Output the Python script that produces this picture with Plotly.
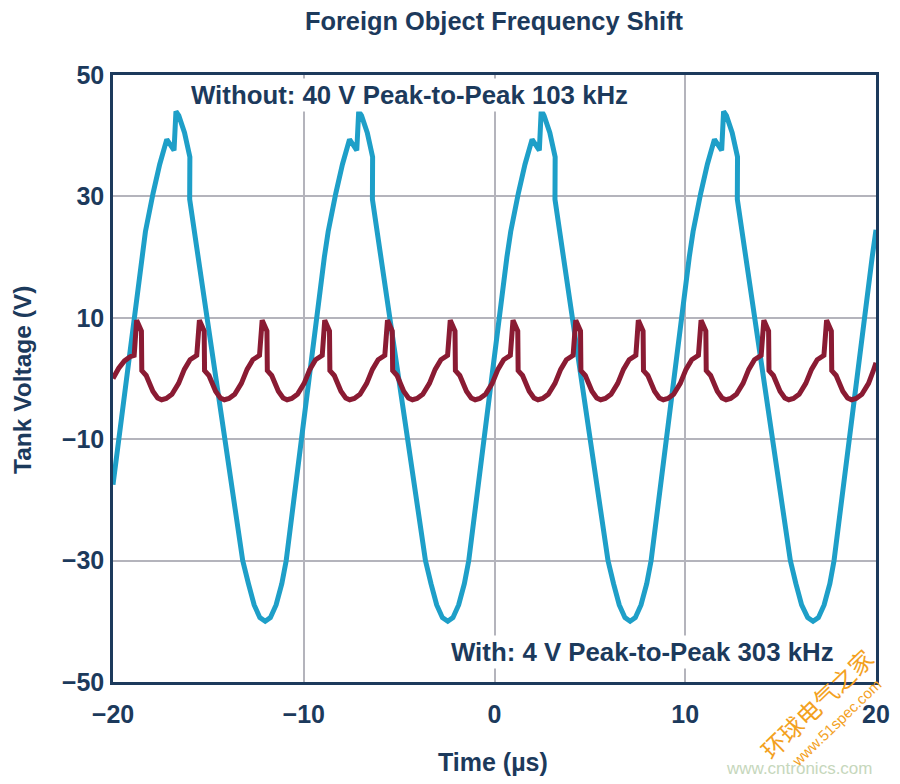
import plotly.graph_objects as go

# ---- data ----
# "Without" foreign object: 40 V peak-to-peak, 103 kHz (time in µs, voltage in V)
without_t = [-20.0, -18.5, -18.3, -17.9, -17.55, -17.18, -16.8, -16.7, -16.55, -16.25, -15.97, -15.98,
             -14.6, -13.2, -12.9, -12.6, -12.3, -12.02, -11.75, -11.45, -11.15, -10.92,
             -8.92, -8.72, -8.32, -7.97, -7.6, -7.22, -7.12, -6.97, -6.67, -6.39, -6.40,
             -5.02, -3.62, -3.33, -3.03, -2.73, -2.45, -2.18, -1.88, -1.58, -1.35,
             0.65, 0.85, 1.25, 1.6, 1.97, 2.35, 2.45, 2.6, 2.9, 3.18, 3.17,
             4.55, 5.95, 6.24, 6.54, 6.84, 7.11, 7.38, 7.68, 7.98, 8.21,
             10.21, 10.41, 10.81, 11.16, 11.53, 11.91, 12.01, 12.16, 12.46, 12.74, 12.73,
             14.11, 15.51, 15.8, 16.1, 16.42, 16.7, 16.98, 17.28, 17.58, 17.8,
             19.8, 20.0]
without_v = [-17.5, 20.0, 24.2, 30.5, 35.3, 39.4, 37.6, 44.0, 43.3, 40.5, 36.5, 29.5,
             0.0, -30.0, -33.8, -37.3, -39.4, -40.0, -39.4, -37.3, -33.8, -30.0,
             20.0, 24.2, 30.5, 35.3, 39.4, 37.6, 44.0, 43.3, 40.5, 36.5, 29.5,
             0.0, -30.0, -33.8, -37.3, -39.4, -40.0, -39.4, -37.3, -33.8, -30.0,
             20.0, 24.2, 30.5, 35.3, 39.4, 37.6, 44.2, 43.3, 40.5, 36.5, 29.5,
             0.0, -30.0, -33.8, -37.3, -39.4, -40.0, -39.4, -37.3, -33.8, -30.0,
             20.0, 24.2, 30.5, 35.3, 39.4, 37.6, 44.0, 43.3, 40.5, 36.5, 29.5,
             0.0, -30.0, -33.8, -37.3, -39.4, -40.0, -39.4, -37.3, -33.8, -30.0,
             20.0, 24.5]

# "With" foreign object: 4 V peak-to-peak, 303 kHz
with_t = [-20.0, -19.7, -19.4, -19.1, -18.89,
          -18.76, -18.51, -18.49, -18.26, -17.91, -17.66, -17.45, -17.21, -16.91, -16.56, -16.26, -15.96, -15.61,
          -15.47, -15.22, -15.20, -14.97, -14.62, -14.37, -14.16, -13.92, -13.62, -13.27, -12.97, -12.67, -12.32,
          -12.18, -11.93, -11.91, -11.68, -11.33, -11.08, -10.87, -10.63, -10.33, -9.98, -9.68, -9.38, -9.03,
          -8.90, -8.65, -8.63, -8.40, -8.05, -7.80, -7.59, -7.35, -7.05, -6.70, -6.40, -6.10, -5.75,
          -5.61, -5.36, -5.34, -5.11, -4.76, -4.51, -4.30, -4.06, -3.76, -3.41, -3.11, -2.81, -2.46,
          -2.32, -2.07, -2.05, -1.82, -1.47, -1.22, -1.01, -0.77, -0.47, -0.12, 0.18, 0.48, 0.83,
          0.97, 1.22, 1.24, 1.47, 1.82, 2.07, 2.28, 2.52, 2.82, 3.17, 3.47, 3.77, 4.12,
          4.26, 4.51, 4.53, 4.76, 5.11, 5.36, 5.57, 5.81, 6.11, 6.46, 6.76, 7.06, 7.41,
          7.54, 7.79, 7.81, 8.04, 8.39, 8.64, 8.85, 9.09, 9.39, 9.74, 10.04, 10.34, 10.69,
          10.83, 11.08, 11.10, 11.33, 11.68, 11.93, 12.14, 12.38, 12.68, 13.03, 13.33, 13.63, 13.98,
          14.12, 14.37, 14.39, 14.62, 14.97, 15.22, 15.43, 15.67, 15.97, 16.32, 16.62, 16.92, 17.27,
          17.41, 17.66, 17.68, 17.91, 18.26, 18.51, 18.72, 18.96, 19.26, 19.61, 19.85, 20.0]
with_v = [0.0, 1.7, 2.9, 3.6, 3.8,
          9.6, 7.8, 1.3, 0.5, -2.1, -3.2, -3.5, -3.3, -2.6, -0.8, 1.5, 3.1, 3.8,
          9.6, 7.8, 1.3, 0.5, -2.1, -3.2, -3.5, -3.3, -2.6, -0.8, 1.5, 3.1, 3.8,
          9.6, 7.8, 1.3, 0.5, -2.1, -3.2, -3.5, -3.3, -2.6, -0.8, 1.5, 3.1, 3.8,
          9.6, 7.8, 1.3, 0.5, -2.1, -3.2, -3.5, -3.3, -2.6, -0.8, 1.5, 3.1, 3.8,
          9.6, 7.8, 1.3, 0.5, -2.1, -3.2, -3.5, -3.3, -2.6, -0.8, 1.5, 3.1, 3.8,
          9.6, 7.8, 1.3, 0.5, -2.1, -3.2, -3.5, -3.3, -2.6, -0.8, 1.5, 3.1, 3.8,
          9.6, 7.8, 1.3, 0.5, -2.1, -3.2, -3.5, -3.3, -2.6, -0.8, 1.5, 3.1, 3.8,
          9.6, 7.8, 1.3, 0.5, -2.1, -3.2, -3.5, -3.3, -2.6, -0.8, 1.5, 3.1, 3.8,
          9.6, 7.8, 1.3, 0.5, -2.1, -3.2, -3.5, -3.3, -2.6, -0.8, 1.5, 3.1, 3.8,
          9.6, 7.8, 1.3, 0.5, -2.1, -3.2, -3.5, -3.3, -2.6, -0.8, 1.5, 3.1, 3.8,
          9.6, 7.8, 1.3, 0.5, -2.1, -3.2, -3.5, -3.3, -2.6, -0.8, 1.5, 3.1, 3.8,
          9.6, 7.8, 1.3, 0.5, -2.1, -3.2, -3.5, -3.3, -2.6, -0.8, 1.2, 2.6]

x_ticks = [-20, -10, 0, 10, 20]
y_ticks = [-50, -30, -10, 10, 30, 50]

title_text = "Foreign Object Frequency Shift"
x_title = "Time (µs)"
y_title = "Tank Voltage (V)"
label_without = "Without: 40 V Peak-to-Peak 103 kHz"
label_with = "With: 4 V Peak-to-Peak 303 kHz"

# ---- styling ----
NAVY = "#1c3a5c"
BLUE = "#1e9fc8"
RED = "#8a1b33"
GRID = "#b4b4bc"
FONT = "Liberation Sans, Arial, sans-serif"

fig = go.Figure()
fig.add_trace(go.Scatter(x=without_t, y=without_v, mode="lines",
                         line=dict(color=BLUE, width=5), name="Without"))
fig.add_trace(go.Scatter(x=with_t, y=with_v, mode="lines",
                         line=dict(color=RED, width=5), name="With"))

axis_common = dict(showline=True, mirror=True, linecolor=NAVY, linewidth=2.5,
                   showgrid=True, gridcolor=GRID, gridwidth=1.5, zeroline=False,
                   ticks="", tickfont=dict(family=FONT, size=25, color=NAVY, weight="bold"))

fig.update_xaxes(range=[-20, 20], tickmode="array", tickvals=x_ticks,
                 ticklabelstandoff=8, **axis_common)
fig.update_yaxes(range=[-50, 50], tickmode="array", tickvals=y_ticks,
                 ticklabelstandoff=1, **axis_common)

# page body adds an 8 px offset, so margins are shifted accordingly
fig.update_layout(
    width=900, height=784,
    margin=dict(l=105, r=32, t=67, b=110),
    paper_bgcolor="white", plot_bgcolor="white",
    showlegend=False,
    font=dict(family=FONT, color=NAVY),
    title=dict(text=title_text, x=486 / 900, xanchor="center",
               y=1 - 13 / 784, yanchor="middle", yref="container",
               font=dict(family=FONT, size=25.4, color=NAVY, weight="bold")),
)

C = dict(xanchor="center", yanchor="middle", showarrow=False)
annots = [
    dict(text=label_without, x=-4.46, y=46.7, xref="x", yref="y",
         bgcolor="white", borderpad=2,
         font=dict(family=FONT, size=25.8, color=NAVY, weight="bold"), **C),
    dict(text=label_with, x=7.76, y=-45.1, xref="x", yref="y",
         bgcolor="white", borderpad=2,
         font=dict(family=FONT, size=25.8, color=NAVY, weight="bold"), **C),
    dict(text=y_title, x=-0.1193, y=0.4975, xref="paper", yref="paper",
         textangle=-90,
         font=dict(family=FONT, size=24.5, color=NAVY, weight="bold"), **C),
    dict(text=x_title, x=0.498, y=-0.1318, xref="paper", yref="paper",
         font=dict(family=FONT, size=25, color=NAVY, weight="bold"), **C),
    # watermark
    dict(text="www.cntronics.com", x=0.899, y=-0.1417, xref="paper", yref="paper",
         font=dict(family="Liberation Sans, Arial", size=17, color="#c6d7bc"), **C),
    dict(text="环球电气之家", x=0.9214, y=-0.0346, xref="paper", yref="paper",
         textangle=-44,
         font=dict(family="Noto Sans CJK SC", size=24, color="#f3a11e"), **C),
    dict(text="www.51spec.com", x=0.948, y=-0.0660, xref="paper", yref="paper",
         textangle=-44,
         font=dict(family="Liberation Sans, Arial", size=15, color="#f3a11e"), **C),
]
fig.update_layout(annotations=annots)

fig.write_html("out.html")
